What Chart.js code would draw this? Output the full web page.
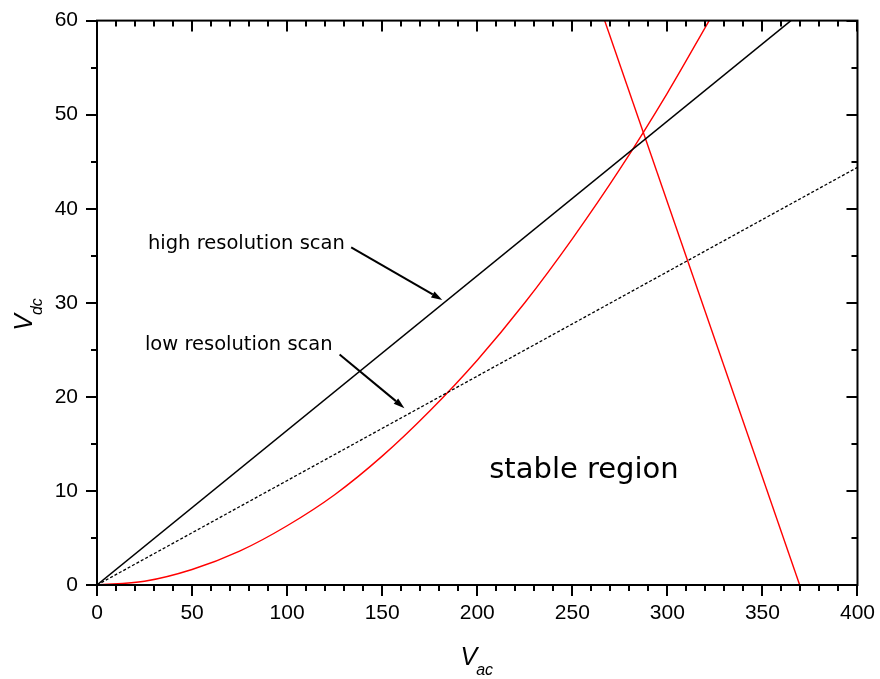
<!DOCTYPE html>
<html>
<head>
<meta charset="utf-8">
<script src="https://cdn.jsdelivr.net/npm/chart.js@4.4.1/dist/chart.umd.min.js"></script>
<style>
  html, body { margin: 0; padding: 0; background: #fff; }
  #wrap { width: 880px; height: 679px; }
</style>
</head>
<body>
<div id="wrap"><canvas id="plot" width="880" height="679"></canvas></div>
<script>
// scan lines (V_dc against V_ac)
const highScanX = [0, 365];
const highScanY = [0, 60];
const lowScanX = [0, 400];
const lowScanY = [0, 44.4];

// stability boundaries
const leftEdgeX = [0, 25, 50, 75, 100, 125, 150, 175, 200, 225, 250, 275, 300, 322];
const leftEdgeY = [0, 0.4, 1.65, 3.6, 6.3, 9.6, 13.7, 18.5, 23.9, 30.0, 36.8, 44.2, 52.3, 60];
const rightEdgeX = [267, 369.6];
const rightEdgeY = [60, 0];

const xTicks = [0, 50, 100, 150, 200, 250, 300, 350, 400];
const yTicks = [0, 10, 20, 30, 40, 50, 60];

// annotation text + arrows, in data units
const notes = [
  { text: 'high resolution scan', x: 26.8, y: 35.7, from: [133.7, 35.9], to: [181.6, 30.3] },
  { text: 'low resolution scan', x: 25.2, y: 25.0, from: [127.6, 24.5], to: [161.7, 18.8] }
];
const regionLabel = { text: 'stable region', x: 206.3, y: 11.4 };

const pts = (xs, ys) => xs.map((x, i) => ({ x: x, y: ys[i] }));

const decor = {
  id: 'decor',
  afterDraw(chart) {
    const ctx = chart.ctx;
    const { left, right, top, bottom } = chart.chartArea;
    const sx = chart.scales.x, sy = chart.scales.y;
    ctx.save();
    ctx.strokeStyle = '#000';
    ctx.lineWidth = 2;
    ctx.strokeRect(left, top, right - left, bottom - top);

    // tick marks: outward on bottom/left, inward on top/right
    ctx.beginPath();
    for (let v = sx.min; v <= sx.max; v += 10) {
      const p = Math.round(sx.getPixelForValue(v));
      const len = v % 50 === 0 ? 11 : 6;
      ctx.moveTo(p, bottom); ctx.lineTo(p, bottom + len);
      ctx.moveTo(p, top); ctx.lineTo(p, top + len);
    }
    for (let v = sy.min; v <= sy.max; v += 5) {
      const p = Math.round(sy.getPixelForValue(v));
      const len = v % 10 === 0 ? 11 : 6;
      ctx.moveTo(left, p); ctx.lineTo(left - len, p);
      ctx.moveTo(right, p); ctx.lineTo(right - len, p);
    }
    ctx.stroke();

    // notes with arrows
    ctx.fillStyle = '#000';
    ctx.textBaseline = 'alphabetic';
    ctx.textAlign = 'left';
    ctx.font = '19.5px "DejaVu Sans"';
    ctx.lineWidth = 2;
    notes.forEach(n => {
      ctx.fillText(n.text, sx.getPixelForValue(n.x), sy.getPixelForValue(n.y));
      const x0 = sx.getPixelForValue(n.from[0]), y0 = sy.getPixelForValue(n.from[1]);
      const x1 = sx.getPixelForValue(n.to[0]), y1 = sy.getPixelForValue(n.to[1]);
      const a = Math.atan2(y1 - y0, x1 - x0);
      const hl = 11, hw = 3.5;
      ctx.beginPath();
      ctx.moveTo(x0, y0);
      ctx.lineTo(x1 - hl * Math.cos(a), y1 - hl * Math.sin(a));
      ctx.stroke();
      ctx.beginPath();
      ctx.moveTo(x1, y1);
      ctx.lineTo(x1 - hl * Math.cos(a) + hw * Math.sin(a), y1 - hl * Math.sin(a) - hw * Math.cos(a));
      ctx.lineTo(x1 - hl * Math.cos(a) - hw * Math.sin(a), y1 - hl * Math.sin(a) + hw * Math.cos(a));
      ctx.closePath();
      ctx.fill();
    });
    ctx.font = '29px "DejaVu Sans"';
    ctx.fillText(regionLabel.text, sx.getPixelForValue(regionLabel.x), sy.getPixelForValue(regionLabel.y));

    // axis titles with subscripts
    const big = 'italic 25px "Liberation Sans"', small = 'italic 16px "Liberation Sans"';
    ctx.font = big;
    const wV = ctx.measureText('V').width;
    ctx.font = small;
    const wAc = ctx.measureText('ac').width, wDc = ctx.measureText('dc').width;
    let cx = (left + right) / 2 - (wV + wAc) / 2;
    ctx.font = big; ctx.fillText('V', cx, 665);
    ctx.font = small; ctx.fillText('ac', cx + wV - 1, 675);

    ctx.translate(32, 314 + (wV + wDc) / 2);
    ctx.rotate(-Math.PI / 2);
    ctx.font = big; ctx.fillText('V', 0, 0);
    ctx.font = small; ctx.fillText('dc', wV - 1, 10);
    ctx.restore();
  }
};

new Chart(document.getElementById('plot'), {
  type: 'scatter',
  data: {
    datasets: [
      { data: pts(highScanX, highScanY), showLine: true, borderColor: '#000', borderWidth: 1.4, pointRadius: 0 },
      { data: pts(lowScanX, lowScanY), showLine: true, borderColor: '#000', borderWidth: 1.3, borderDash: [3, 2], pointRadius: 0 },
      { data: pts(leftEdgeX, leftEdgeY), showLine: true, borderColor: '#ff0000', borderWidth: 1.4, pointRadius: 0, cubicInterpolationMode: 'monotone' },
      { data: pts(rightEdgeX, rightEdgeY), showLine: true, borderColor: '#ff0000', borderWidth: 1.4, pointRadius: 0 }
    ]
  },
  options: {
    responsive: false,
    animation: false,
    events: [],
    layout: { padding: { top: 17, right: 21, left: 0, bottom: 0 } },
    plugins: { legend: { display: false }, tooltip: { enabled: false } },
    scales: {
      x: {
        type: 'linear', min: 0, max: 400,
        afterBuildTicks: s => { s.ticks = xTicks.map(v => ({ value: v })); },
        afterFit: s => { s.height = 94; },
        grid: { display: false, drawTicks: true, tickLength: 11 },
        border: { display: false },
        ticks: { color: '#000', padding: 5, font: { family: 'Liberation Sans', size: 21 } }
      },
      y: {
        type: 'linear', min: 0, max: 60,
        afterBuildTicks: s => { s.ticks = yTicks.map(v => ({ value: v })); },
        afterFit: s => { s.width = 97; },
        grid: { display: false, drawTicks: true, tickLength: 11 },
        border: { display: false },
        ticks: { color: '#000', padding: 8, font: { family: 'Liberation Sans', size: 21 } }
      }
    }
  },
  plugins: [decor]
});
</script>
</body>
</html>
